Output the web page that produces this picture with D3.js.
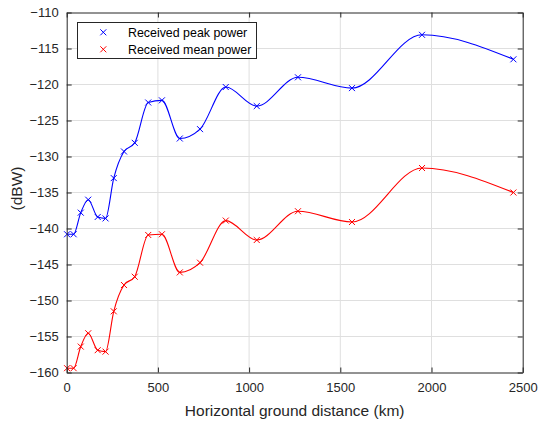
<!DOCTYPE html>
<html>
<head>
<meta charset="utf-8">
<script src="https://cdn.jsdelivr.net/npm/d3@7"></script>
<style>
  html, body { margin: 0; padding: 0; background: #fff; }
  svg { display: block; font-family: "Liberation Sans", Arial, Helvetica, sans-serif; }
</style>
</head>
<body>
<svg id="chart" width="538" height="423"></svg>
<script>
// Data
const distances = [2, 38, 77, 118, 170, 213, 258, 314, 373, 447, 522, 620, 731, 872, 1042, 1268, 1564, 1948, 2449];
const peakPower = [-140.8, -140.8, -137.8, -136.0, -138.4, -138.6, -133.0, -129.3, -128.1, -122.5, -122.2, -127.5, -126.2, -120.35, -123.0, -119.0, -120.5, -113.1, -116.5];
const meanPower = [-159.4, -159.4, -156.4, -154.55, -156.9, -157.1, -151.5, -147.85, -146.7, -140.9, -140.8, -146.1, -144.75, -138.9, -141.6, -137.6, -139.1, -131.6, -135.0];
const xTicks = [0, 500, 1000, 1500, 2000, 2500];
const yTicks = [-160, -155, -150, -145, -140, -135, -130, -125, -120, -115, -110];
const seriesNames = ["Received peak power", "Received mean power"];
const seriesColors = ["#0000ff", "#ff0000"];

const svg = d3.select("#chart");
const m = { left: 66.7, right: 522.7, top: 12.5, bottom: 372.5 };
const axisColor = "#262626";
const gridColor = "#dfdfdf";

const x = d3.scaleLinear().domain([0, 2500]).range([m.left, m.right]);
const y = d3.scaleLinear().domain([-160, -110]).range([m.bottom, m.top]);

// background
svg.append("rect").attr("x", m.left).attr("y", m.top)
  .attr("width", m.right - m.left).attr("height", m.bottom - m.top).attr("fill", "#fff");

// grid
const grid = svg.append("g");
grid.selectAll(".gx").data(xTicks.slice(1, -1)).enter().append("line")
  .attr("x1", d => x(d)).attr("x2", d => x(d)).attr("y1", m.top).attr("y2", m.bottom)
  .attr("stroke", gridColor).attr("stroke-width", 1);
grid.selectAll(".gy").data(yTicks.slice(1, -1)).enter().append("line")
  .attr("y1", d => y(d)).attr("y2", d => y(d)).attr("x1", m.left).attr("x2", m.right)
  .attr("stroke", gridColor).attr("stroke-width", 1);

// series
const line = d3.line().x(d => x(d[0])).y(d => y(d[1])).curve(d3.curveMonotoneX);
const seriesData = [peakPower, meanPower];
seriesData.forEach((vals, i) => {
  const pts = distances.map((d, k) => [d, vals[k]]);
  svg.append("path").datum(pts).attr("d", line)
    .attr("fill", "none").attr("stroke", seriesColors[i]).attr("stroke-width", 1.1);
  const s = 3;
  svg.append("g").selectAll("path").data(pts).enter().append("path")
    .attr("d", d => {
      const cx = x(d[0]), cy = y(d[1]);
      return `M${cx - s},${cy - s}L${cx + s},${cy + s}M${cx - s},${cy + s}L${cx + s},${cy - s}`;
    })
    .attr("stroke", seriesColors[i]).attr("stroke-width", 1).attr("fill", "none");
});

// axes (MATLAB box style, inward ticks)
const tickLen = 5;
const xAxisB = d3.axisBottom(x).tickValues(xTicks).tickSizeInner(-tickLen).tickSizeOuter(0).tickPadding(10).tickFormat(d3.format("d"));
const xAxisT = d3.axisTop(x).tickValues(xTicks).tickSizeInner(-tickLen).tickSizeOuter(0).tickFormat("");
const yAxisL = d3.axisLeft(y).tickValues(yTicks).tickSizeInner(-tickLen).tickSizeOuter(0).tickPadding(8).tickFormat(d3.format("d"));
const yAxisR = d3.axisRight(y).tickValues(yTicks).tickSizeInner(-tickLen).tickSizeOuter(0).tickFormat("");

function style(g) {
  g.select(".domain").attr("stroke", axisColor);
  g.selectAll(".tick line").attr("stroke", axisColor);
  g.selectAll("text").attr("fill", axisColor).attr("font-size", 13)
    .attr("font-family", "'Liberation Sans', Arial, sans-serif");
}
svg.append("g").attr("transform", `translate(0,${m.bottom})`).call(xAxisB).call(style);
svg.append("g").attr("transform", `translate(0,${m.top})`).call(xAxisT).call(style);
svg.append("g").attr("transform", `translate(${m.left},0)`).call(yAxisL).call(style);
svg.append("g").attr("transform", `translate(${m.right},0)`).call(yAxisR).call(style);

// axis labels
svg.append("text").attr("x", (m.left + m.right) / 2).attr("y", 416)
  .attr("text-anchor", "middle").attr("font-size", 15.5).attr("fill", axisColor)
  .text("Horizontal ground distance (km)");
svg.append("text").attr("transform", `translate(22,${(m.top + m.bottom) / 2 - 4}) rotate(-90)`)
  .attr("text-anchor", "middle").attr("font-size", 15.5).attr("fill", axisColor)
  .text("(dBW)");

// legend
const lg = svg.append("g");
lg.append("rect").attr("x", 77.5).attr("y", 22.5).attr("width", 179).attr("height", 36)
  .attr("fill", "#fff").attr("stroke", axisColor).attr("stroke-width", 1);
seriesNames.forEach((name, i) => {
  const cy = 32.3 + i * 17;
  const cx = 103.3, s = 3;
  lg.append("path").attr("d", `M${cx - s},${cy - s}L${cx + s},${cy + s}M${cx - s},${cy + s}L${cx + s},${cy - s}`)
    .attr("stroke", seriesColors[i]).attr("stroke-width", 1).attr("fill", "none");
  lg.append("text").attr("x", 128).attr("y", cy + 4.3).attr("font-size", 12.4).attr("fill", "#000")
    .text(name);
});
</script>
</body>
</html>
